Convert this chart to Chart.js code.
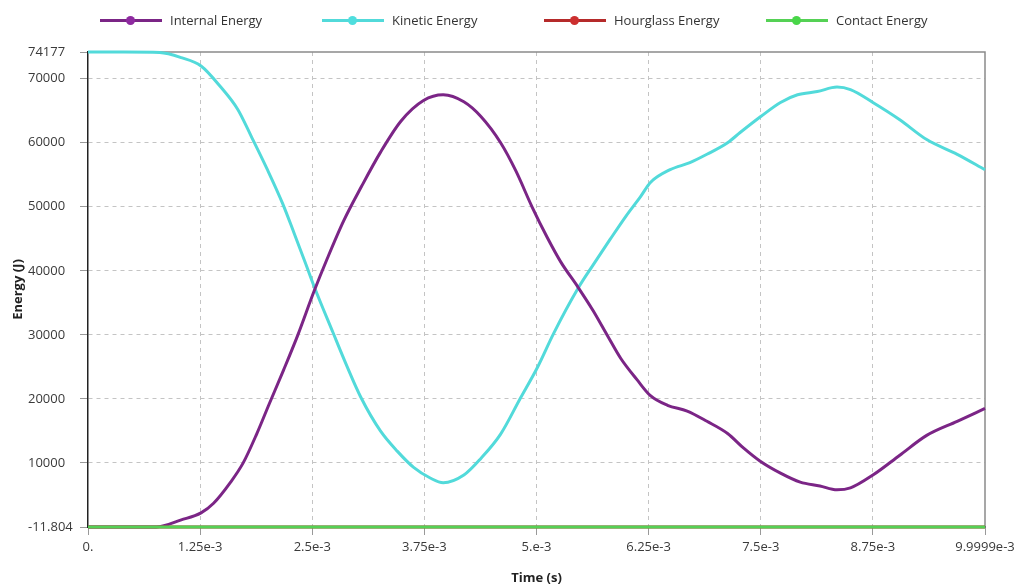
<!DOCTYPE html>
<html>
<head>
<meta charset="utf-8">
<script src="https://cdn.jsdelivr.net/npm/chart.js@4/dist/chart.umd.min.js"></script>
<style>
  html, body { margin: 0; padding: 0; background: #fff; }
  #wrap { width: 1017px; height: 588px; position: relative; }
  #legend {
    position: absolute; left: 100px; top: 11px; height: 18px;
    display: flex; align-items: center;
    font: 13px "Open Sans", sans-serif; color: #333;
  }
  #legend .item { display: flex; align-items: center; width: 222px; }
  #legend .mark { position: relative; width: 62px; height: 3px; margin-right: 8px; }
  #legend .dot {
    position: absolute; left: 26px; top: -3px; width: 9px; height: 9px; border-radius: 50%;
  }
</style>
</head>
<body>
<div id="wrap">
  <div id="legend"></div>
  <canvas id="energyChart"></canvas>
</div>
<script>
// Axis ticks as shown in the solver output
const xTickValues = [0, 1.25e-3, 2.5e-3, 3.75e-3, 5e-3, 6.25e-3, 7.5e-3, 8.75e-3, 9.9999e-3];
const xTickLabels = ['0.', '1.25e-3', '2.5e-3', '3.75e-3', '5.e-3', '6.25e-3', '7.5e-3', '8.75e-3', '9.9999e-3'];
const yTickValues = [-11.804, 10000, 20000, 30000, 40000, 50000, 60000, 70000, 74177];
const yTickLabels = ['-11.804', '10000', '20000', '30000', '40000', '50000', '60000', '70000', '74177'];

const seriesNames = ['Internal Energy', 'Kinetic Energy', 'Hourglass Energy', 'Contact Energy'];

// Internal energy (J) vs time (s)
const internalTime = [0, 0.5e-3, 0.76e-3, 1.04e-3, 1.26e-3, 1.4e-3, 1.59e-3, 1.73e-3, 1.88e-3, 2.02e-3,
  2.18e-3, 2.34e-3, 2.52e-3, 2.67e-3, 2.85e-3, 3.05e-3, 3.26e-3, 3.49e-3, 3.74e-3, 3.96e-3,
  4.19e-3, 4.38e-3, 4.6e-3, 4.77e-3, 4.95e-3, 5.12e-3, 5.27e-3, 5.46e-3, 5.63e-3, 5.79e-3, 5.94e-3,
  6.12e-3, 6.27e-3, 6.46e-3, 6.68e-3, 6.9e-3, 7.13e-3, 7.31e-3, 7.49e-3, 7.72e-3, 7.94e-3, 8.16e-3,
  8.35e-3, 8.5e-3, 8.75e-3, 9.05e-3, 9.35e-3, 9.69e-3, 9.9999e-3];
const internalEnergy = [0, 0, 0, 1100, 2200, 3700, 7000, 10000, 14500, 19200,
  24500, 30000, 36800, 42000, 47800, 53200, 58500, 63400, 66600, 67500,
  66400, 64100, 60000, 55600, 50000, 45200, 41400, 37500, 33800, 29900, 26300,
  23000, 20500, 19000, 18100, 16500, 14600, 12300, 10300, 8400, 7000, 6400,
  5800, 6100, 8100, 11200, 14300, 16500, 18500];

// Kinetic energy (J) vs time (s)
const kineticTime = [0, 0.4e-3, 0.8e-3, 1.04e-3, 1.26e-3, 1.48e-3, 1.67e-3, 1.82e-3, 2.0e-3, 2.17e-3,
  2.3e-3, 2.43e-3, 2.52e-3, 2.73e-3, 2.89e-3, 3.04e-3, 3.26e-3, 3.45e-3, 3.63e-3, 3.82e-3, 3.96e-3,
  4.19e-3, 4.38e-3, 4.6e-3, 4.82e-3, 5.01e-3, 5.19e-3, 5.46e-3, 5.63e-3, 5.82e-3, 6.0e-3, 6.16e-3,
  6.27e-3, 6.49e-3, 6.71e-3, 6.9e-3, 7.13e-3, 7.27e-3, 7.5e-3, 7.72e-3, 7.91e-3, 8.13e-3, 8.35e-3,
  8.5e-3, 8.75e-3, 9.05e-3, 9.35e-3, 9.69e-3, 9.9999e-3];
const kineticEnergy = [74177, 74177, 74100, 73300, 72000, 68700, 65200, 61000, 55800, 50500,
  45800, 41000, 37600, 30400, 25000, 20300, 15000, 11800, 9300, 7600, 6900,
  8100, 10700, 14500, 20100, 24900, 30200, 37200, 40900, 44900, 48600, 51600,
  53800, 55800, 56900, 58200, 60000, 61600, 64100, 66300, 67500, 68000, 68700,
  68300, 66300, 63600, 60500, 58200, 55800];

// Hourglass and contact energy stay at zero
const flatTime = [0, 9.9999e-3];
const hourglassEnergy = [0, 0];
const contactEnergy = [0, 0];

const toPoints = (xs, ys) => xs.map((x, i) => ({ x: x, y: ys[i] }));

const colors = ['#7b2586', '#52dada', '#b52a2a', '#55d155'];
const dotColors = ['#8e2aa0', '#4fdede', '#cc2f2f', '#49d649'];

// HTML legend: line + dot marker, fixed width items
const legendEl = document.getElementById('legend');
seriesNames.forEach((name, i) => {
    const item = document.createElement('div');
    item.className = 'item';
    item.innerHTML = '<span class="mark" style="background:' + colors[i] + '">' +
        '<span class="dot" style="background:' + dotColors[i] + '"></span></span>' +
        '<span>' + name + '</span>';
    legendEl.appendChild(item);
});

function makeSet(i, xs, ys, order) {
    return {
        label: seriesNames[i],
        data: toPoints(xs, ys),
        borderColor: colors[i],
        backgroundColor: colors[i],
        borderWidth: 3,
        pointRadius: 0,
        cubicInterpolationMode: 'monotone',
        clip: 6,
        order: order
    };
}

// y-axis title drawn beside the left-aligned tick labels
const yTitlePlugin = {
    id: 'yTitle',
    afterDraw(chart) {
        const { ctx, chartArea } = chart;
        ctx.save();
        ctx.translate(18, (chartArea.top + chartArea.bottom) / 2);
        ctx.rotate(-Math.PI / 2);
        ctx.font = 'bold 13px "Open Sans"';
        ctx.fillStyle = '#222';
        ctx.textAlign = 'center';
        ctx.textBaseline = 'middle';
        ctx.fillText('Energy (J)', 0, 0);
        ctx.restore();
    }
};

// gray frame on the top and right edges of the plot
const framePlugin = {
    id: 'frame',
    beforeDatasetsDraw(chart) {
        const { ctx, chartArea: a } = chart;
        ctx.save();
        ctx.strokeStyle = '#8a8a8a';
        ctx.lineWidth = 1.5;
        ctx.beginPath();
        ctx.moveTo(a.left, a.top);
        ctx.lineTo(a.right, a.top);
        ctx.lineTo(a.right, a.bottom);
        ctx.stroke();
        ctx.restore();
    }
};

Chart.defaults.font.family = '"Open Sans", sans-serif';
Chart.defaults.font.size = 13;
Chart.defaults.color = '#3a3a3a';

new Chart(document.getElementById('energyChart'), {
    type: 'line',
    data: {
        datasets: [
            makeSet(0, internalTime, internalEnergy, 2),
            makeSet(1, kineticTime, kineticEnergy, 3),
            makeSet(2, flatTime, hourglassEnergy, 1),
            makeSet(3, flatTime, contactEnergy, 0)
        ]
    },
    options: {
        responsive: true,
        maintainAspectRatio: false,
        animation: false,
        layout: { padding: { left: 28, top: 52, right: 0, bottom: 0 } },
        plugins: {
            legend: { display: false },
            tooltip: { enabled: false }
        },
        scales: {
            x: {
                type: 'linear',
                min: 0,
                max: 9.9999e-3,
                afterBuildTicks: (s) => { s.ticks = xTickValues.map(v => ({ value: v })); },
                afterFit: (s) => { s.paddingRight = 32; s.height = 61; },
                ticks: {
                    autoSkip: false,
                    maxRotation: 0,
                    padding: 4,
                    callback: (v, i) => xTickLabels[i]
                },
                grid: {
                    color: (c) => (c.index === 0 || c.index === xTickValues.length - 1) ? 'transparent' : '#c4c4c4',
                    tickColor: '#999',
                    tickLength: 8
                },
                border: { color: '#222', width: 1.5, dash: [4, 4] },
                title: {
                    display: true,
                    text: 'Time (s)',
                    color: '#222',
                    font: { weight: 'bold', size: 13 },
                    padding: { top: 8, bottom: 2 }
                }
            },
            y: {
                min: -11.804,
                max: 74177,
                afterBuildTicks: (s) => { s.ticks = yTickValues.map(v => ({ value: v })); },
                afterFit: (s) => { s.width = 60; },
                ticks: {
                    crossAlign: 'far',
                    callback: (v, i) => yTickLabels[i]
                },
                grid: {
                    color: (c) => (c.index === 0 || c.index === yTickValues.length - 1) ? 'transparent' : '#c4c4c4',
                    tickColor: '#999',
                    tickLength: 8
                },
                border: { color: '#222', width: 1.5, dash: [4, 4] }
            }
        }
    },
    plugins: [yTitlePlugin, framePlugin]
});
</script>
</body>
</html>
